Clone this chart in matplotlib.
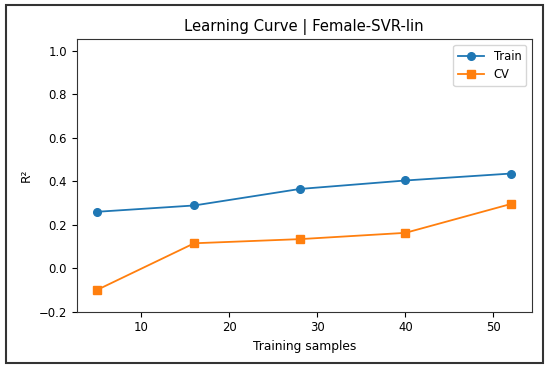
import matplotlib
matplotlib.use("Agg")
import matplotlib.pyplot as plt
from matplotlib.patches import Rectangle

train_sizes = [5, 16, 28, 40, 52]
train_scores = [0.260, 0.289, 0.365, 0.404, 0.436]
cv_scores = [-0.099, 0.115, 0.134, 0.163, 0.296]

fig = plt.figure(figsize=(5.5, 3.7), dpi=100)
ax = fig.add_axes([0.1395, 0.1576, 0.8273, 0.7362])
ax.plot(train_sizes, train_scores, marker='o', color='#1f77b4', label='Train', markersize=5.5, linewidth=1.3)
ax.plot(train_sizes, cv_scores, marker='s', color='#ff7f0e', label='CV', markersize=5.5, linewidth=1.3)
ax.set_ylim(-0.2, 1.054)
ax.set_title('Learning Curve | Female-SVR-lin', fontsize=10.7)
ax.set_xlabel('Training samples', fontsize=8.8)
ax.set_ylabel('R²', fontsize=8.8)
ax.tick_params(labelsize=8.4)
for s in ax.spines.values():
    s.set_color('#333333')
ax.legend(fontsize=8.3, loc='upper right', handlelength=2.3)
fig.patches.append(Rectangle((0.011, 0.019), 0.976, 0.968, transform=fig.transFigure,
                             fill=False, edgecolor='#333333', linewidth=1.5))
fig.savefig('out.png', dpi=100)
